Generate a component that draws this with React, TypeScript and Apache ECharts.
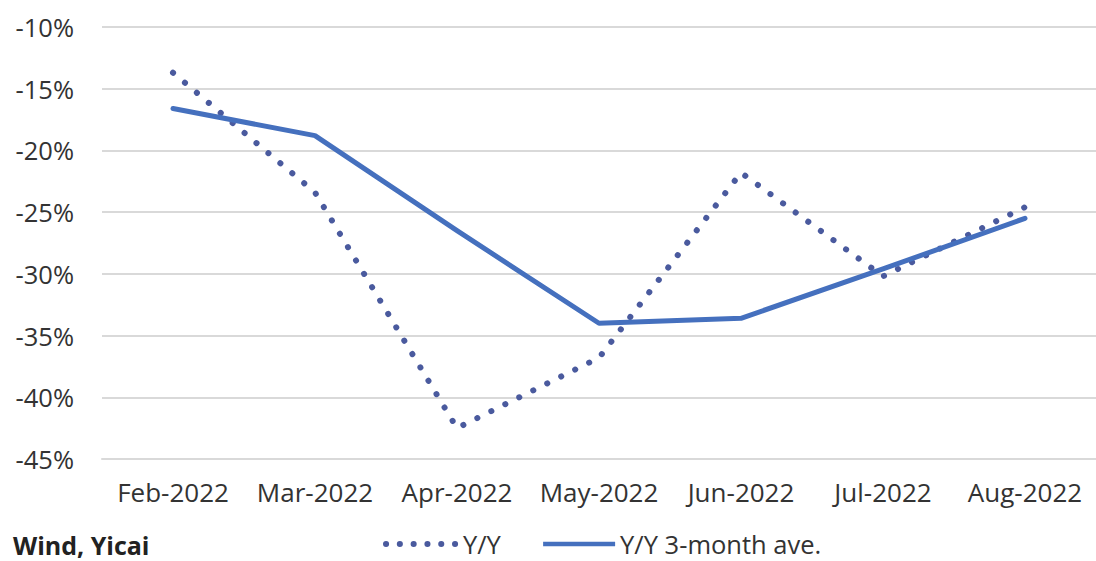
import React, { useEffect, useRef } from "react";
import * as echarts from "echarts";

const months = ["Feb-2022", "Mar-2022", "Apr-2022", "May-2022", "Jun-2022", "Jul-2022", "Aug-2022"];
const yoy = [-13.7, -23.4, -42.5, -36.8, -21.8, -30.2, -24.6];
const avg3 = [-16.6, -18.8, -26.5, -34.0, -33.6, -29.6, -25.5];
const yTicks = { min: -45, max: -10, interval: 5 };
const sourceText = "Wind, Yicai";

const FONT = "'Open Sans', 'Liberation Sans', sans-serif";
const DOT_COLOR = "#4a5a9e";
const LINE_COLOR = "#4570be";

export default function App() {
  const ref = useRef<HTMLDivElement>(null);
  useEffect(() => {
    if (!ref.current) return;
    const chart = echarts.init(ref.current, undefined, { renderer: "svg" });
    chart.setOption({
      animation: false,
      backgroundColor: "#ffffff",
      grid: { left: 102, top: 27, width: 1003, height: 432, containLabel: false },
      xAxis: {
        type: "category",
        data: months,
        boundaryGap: true,
        axisLine: { show: true, lineStyle: { color: "#d9d9d9", width: 2 } },
        axisTick: { show: false },
        axisLabel: { color: "#333333", fontSize: 26, fontFamily: FONT, margin: 20, interval: 0 },
      },
      yAxis: {
        type: "value",
        min: yTicks.min,
        max: yTicks.max,
        interval: yTicks.interval,
        axisLine: { show: false },
        axisTick: { show: false },
        splitLine: { lineStyle: { color: "#d9d9d9", width: 2 } },
        axisLabel: {
          color: "#333333",
          fontSize: 25.5,
          fontFamily: FONT,
          margin: 28,
          formatter: "{value}%",
        },
      },
      legend: {
        left: 383,
        top: 531,
        padding: 0,
        itemWidth: 72,
        itemHeight: 14,
        itemGap: 40,
        itemStyle: { opacity: 0 },
        textStyle: { color: "#333333", fontSize: 25.5, lineHeight: 25, fontFamily: FONT },
        data: [
          {
            name: "Y/Y",
            lineStyle: { color: DOT_COLOR, width: 6, type: [0.1, 13.7], cap: "round" },
          },
          {
            name: "Y/Y 3-month ave.",
            lineStyle: { color: LINE_COLOR, width: 4.5, type: "solid", cap: "butt" },
          },
        ],
      },
      graphic: [
        {
          type: "text",
          x: 13,
          y: 545,
          style: {
            text: sourceText,
            fontSize: 25,
            lineHeight: 25,
            fontWeight: "bold",
            fontFamily: FONT,
            fill: "#222222",
            verticalAlign: "middle",
          },
        },
      ],
      series: [
        {
          name: "Y/Y",
          type: "line",
          data: yoy,
          symbol: "none",
          color: DOT_COLOR,
          lineStyle: { color: DOT_COLOR, width: 6, type: [0.1, 15.5], cap: "round" },
          z: 2,
        },
        {
          name: "Y/Y 3-month ave.",
          type: "line",
          data: avg3,
          symbol: "none",
          color: LINE_COLOR,
          lineStyle: { color: LINE_COLOR, width: 5, cap: "round", join: "round" },
          z: 3,
        },
      ],
    });
    return () => chart.dispose();
  }, []);
  return (
    <div
      ref={ref}
      style={{ position: "absolute", left: 0, top: 0, width: 1096, height: 561 }}
    />
  );
}
